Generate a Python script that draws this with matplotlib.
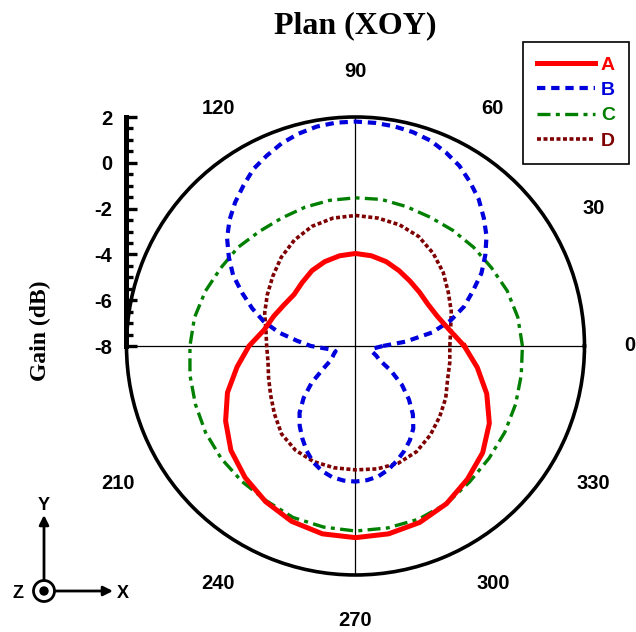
import numpy as np
import matplotlib
matplotlib.use('Agg')
from matplotlib import pyplot as plt
from matplotlib.lines import Line2D
from matplotlib.patches import Circle
from matplotlib.ticker import MultipleLocator

plt.rcParams['font.family'] = ['Liberation Sans', 'DejaVu Sans']
plt.rcParams['axes.unicode_minus'] = False

# angles (deg) and gains (dB)
ang10 = np.arange(0, 370, 10)
ang5 = np.arange(0, 365, 5)

gain_a = [-3.25, -3.85, -4.2, -4.35, -4.35, -4.3, -4.2, -4.08, -4.0, -3.96,
          -4.0, -4.08, -4.2, -4.38, -4.5, -4.4, -4.2, -3.95, -3.35, -2.75,
          -2.05, -1.45, -0.9, -0.5, -0.15, 0.15, 0.33, 0.37, 0.33, 0.2,
          -0.05, -0.4, -0.75, -1.25, -1.9, -2.6, -3.25]

gain_b = [-6.8, -5.8, -4.6, -3.7, -2.95, -2.35, -1.65, -1.08, -0.53, -0.08,
          0.37, 0.73, 1.08, 1.33, 1.55, 1.67, 1.74, 1.78, 1.8, 1.79,
          1.73, 1.6, 1.42, 1.17, 0.92, 0.54, 0.18, -0.22, -0.68, -1.25,
          -1.83, -2.55, -3.2, -3.85, -4.6, -5.45, -6.05, -6.7, -7.0, -7.1,
          -7.0, -6.9, -6.75, -6.3, -5.5, -4.8, -4.2, -3.75, -3.35, -2.95,
          -2.6, -2.35, -2.18, -2.1, -2.08, -2.12, -2.22, -2.42, -2.68, -2.95,
          -3.25, -3.6, -4.1, -4.7, -5.35, -6.1, -6.8, -7.0, -7.2, -7.25,
          -7.25, -7.1, -6.8]

gain_c = [-0.71, -0.8, -0.95, -1.15, -1.28, -1.4, -1.5, -1.52, -1.5, -1.53,
          -1.54, -1.55, -1.55, -1.47, -1.3, -1.2, -1.02, -0.86, -0.77, -0.66,
          -0.56, -0.44, -0.35, -0.28, -0.2, -0.03, 0.03, 0.08, 0.07, 0.05,
          -0.05, -0.25, -0.38, -0.47, -0.56, -0.65, -0.71]

gain_d = [-3.88, -3.78, -3.55, -3.32, -3.0, -2.72, -2.48, -2.37, -2.33, -2.3,
          -2.33, -2.44, -2.66, -2.95, -3.28, -3.55, -3.78, -4.03, -4.12, -4.12,
          -3.96, -3.72, -3.38, -2.98, -2.75, -2.63, -2.6, -2.59, -2.55, -2.55,
          -2.67, -2.92, -3.2, -3.45, -3.72, -3.82, -3.88]

angle_labels = [0, 30, 60, 90, 120, 210, 240, 270, 300, 330]
series_names = ['A', 'B', 'C', 'D']
colors = ['#ff0000', '#0000dd', '#007f00', '#7f0000']

fig = plt.figure(figsize=(6.36, 6.32), dpi=100)

# polar plot
ax = fig.add_axes([0.1989, 0.0902, 0.7201, 0.7247], projection='polar')
ax.set_ylim(-8, 2)
ax.plot(np.deg2rad(ang10), gain_a, color=colors[0], lw=3.6, zorder=5)
ax.plot(np.deg2rad(ang5), gain_b, color=colors[1], lw=3.0,
        ls=(0, (2.0, 1.4)), zorder=4)
ax.plot(np.deg2rad(ang10), gain_c, color=colors[2], lw=2.4,
        ls=(0, (3.9, 1.6, 1.2, 1.6)), zorder=3)
ax.plot(np.deg2rad(ang10), gain_d, color=colors[3], lw=2.6,
        ls=(0, (1.1, 0.7)), zorder=3)

ax.set_xticks(np.deg2rad([0, 90, 180, 270]))
ax.set_xticklabels([])
ax.set_yticks([])
ax.xaxis.grid(True, color='black', lw=0.9)
ax.spines['polar'].set_linewidth(2.6)
for a in angle_labels:
    ax.text(np.deg2rad(a), 4.0, str(a), ha='center', va='center',
            fontsize=14.5, fontweight='bold', clip_on=False)

# radial gain axis on the left
rax = fig.add_axes([0.1981, 0.4525, 0.001, 0.3623])
rax.set_ylim(-8, 2)
rax.set_xticks([])
for s in ['right', 'top', 'bottom']:
    rax.spines[s].set_visible(False)
rax.spines['left'].set_linewidth(3.6)
rax.yaxis.set_major_locator(MultipleLocator(2))
rax.yaxis.set_minor_locator(MultipleLocator(0.5))
rax.tick_params(axis='y', which='major', direction='in', length=8, width=2.4,
                pad=10, labelsize=14.5)
rax.tick_params(axis='y', which='minor', direction='in', length=5, width=2.4)
for lab in rax.get_yticklabels():
    lab.set_fontweight('bold')
rax.patch.set_alpha(0)

fig.text(0.558, 1 - 26 / 632, 'Plan (XOY)', ha='center', va='center',
         family='Liberation Serif', fontsize=23, fontweight='bold')
fig.text(40 / 636, 1 - 331 / 632, 'Gain (dB)', ha='center', va='center',
         rotation=90, family='Liberation Serif', fontsize=17, fontweight='bold')

# legend
handles = [
    Line2D([], [], color=colors[0], lw=3.6),
    Line2D([], [], color=colors[1], lw=3.0, ls=(0, (2.0, 1.4))),
    Line2D([], [], color=colors[2], lw=2.4, ls=(0, (3.9, 1.6, 1.2, 1.6))),
    Line2D([], [], color=colors[3], lw=2.6, ls=(0, (1.1, 0.7))),
]
leg = fig.legend(handles, series_names, loc='upper right',
                 bbox_to_anchor=(629 / 636, 1 - 42 / 632),
                 bbox_transform=fig.transFigure, borderaxespad=0,
                 fancybox=False, edgecolor='black', framealpha=1,
                 handlelength=3.0, handletextpad=0.3, labelspacing=0.4,
                 borderpad=0.72, prop={'size': 14, 'weight': 'bold'})
leg.get_frame().set_linewidth(1.2)
for t, c in zip(leg.get_texts(), colors):
    t.set_color(c)

# coordinate system icon
ov = fig.add_axes([0, 0, 1, 1], zorder=-1)
ov.set_xlim(0, 636)
ov.set_ylim(632, 0)
ov.axis('off')
ov.annotate('', xy=(44, 515), xytext=(44, 580),
            arrowprops=dict(arrowstyle='-|>', lw=2, color='black',
                            mutation_scale=14, shrinkA=0, shrinkB=0))
ov.annotate('', xy=(113, 591), xytext=(55, 591),
            arrowprops=dict(arrowstyle='-|>', lw=2, color='black',
                            mutation_scale=14, shrinkA=0, shrinkB=0))
ov.add_patch(Circle((44, 591), 10.5, fill=False, lw=2, color='black'))
ov.add_patch(Circle((44, 591), 4, color='black'))
ov.text(44, 505, 'Y', ha='center', va='center', fontsize=13, fontweight='bold')
ov.text(123, 594, 'X', ha='center', va='center', fontsize=13, fontweight='bold')
ov.text(18, 593, 'Z', ha='center', va='center', fontsize=13, fontweight='bold')

fig.savefig('out.png', dpi=100)
